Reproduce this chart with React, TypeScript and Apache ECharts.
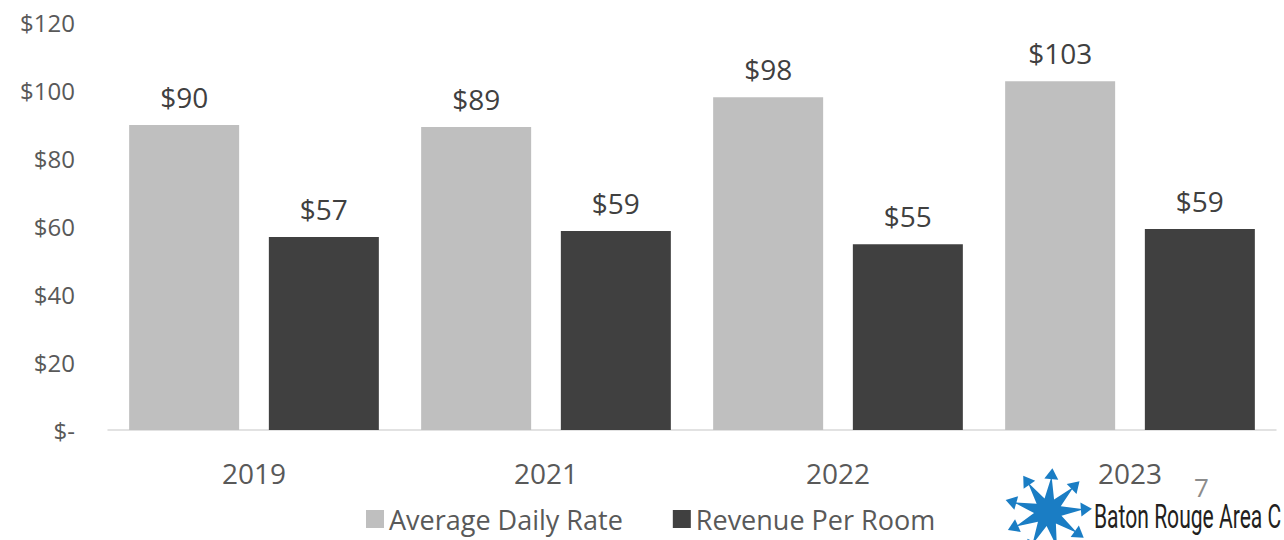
import React, { useEffect, useRef } from "react";
import * as echarts from "echarts";

const categories = ["2019", "2021", "2022", "2023"];
const adrValues = [89.7, 89.1, 97.9, 102.6];
const rprValues = [56.8, 58.5, 54.6, 59.1];
const seriesNames = ["Average Daily Rate", "Revenue Per Room"];

function starPoints(cx: number, cy: number, n: number, ro: number, ri: number, rot: number) {
  const pts: number[][] = [];
  for (let i = 0; i < n * 2; i++) {
    const r = i % 2 === 0 ? ro : ri;
    const a = rot + (Math.PI * i) / n;
    pts.push([cx + r * Math.cos(a), cy + r * Math.sin(a)]);
  }
  return pts;
}

function arrowHeads(cx: number, cy: number, n: number, ro: number, rot: number) {
  const out: any[] = [];
  for (let i = 0; i < n; i++) {
    const a = rot + (2 * Math.PI * i) / n;
    const tx = cx + ro * Math.cos(a);
    const ty = cy + ro * Math.sin(a);
    const bx = cx + (ro - 11) * Math.cos(a);
    const by = cy + (ro - 11) * Math.sin(a);
    const px = -Math.sin(a) * 7;
    const py = Math.cos(a) * 7;
    out.push({
      type: "polygon",
      shape: { points: [[tx, ty], [bx + px, by + py], [bx - px, by - py]] },
      style: { fill: "#1A7DC4" },
    });
  }
  return out;
}

export default function App() {
  const ref = useRef<HTMLDivElement>(null);
  useEffect(() => {
    if (!ref.current) return;
    const chart = echarts.init(ref.current, null, { renderer: "svg" });
    const font = "'Open Sans', sans-serif";
    const fmt = (v: number) => (v === 0 ? "$-" : "$" + Math.round(v));
    const rot = -Math.PI / 2 + 0.1;
    chart.setOption({
      animation: false,
      textStyle: { fontFamily: font },
      grid: { left: 108, right: 8, top: 22, bottom: 110, containLabel: false },
      legend: {
        data: seriesNames,
        left: 366,
        top: 504,
        padding: 0,
        itemWidth: 18,
        itemHeight: 18,
        itemGap: 50,
        icon: "rect",
        textStyle: { fontSize: 27, lineHeight: 30, color: "#595959", fontFamily: font },
      },
      xAxis: {
        type: "category",
        data: categories,
        axisLine: { lineStyle: { color: "#D9D9D9", width: 1.5 } },
        axisTick: { show: false },
        axisLabel: { fontSize: 28, color: "#595959", margin: 29, fontFamily: font },
      },
      yAxis: {
        type: "value",
        min: 0,
        max: 120,
        interval: 20,
        axisLine: { show: false },
        axisTick: { show: false },
        splitLine: { show: false },
        axisLabel: {
          fontSize: 24,
          color: "#595959",
          margin: 33,
          fontFamily: font,
          formatter: (v: number) => fmt(v),
        },
      },
      series: [
        {
          name: seriesNames[0],
          type: "bar",
          data: adrValues,
          barWidth: 110,
          barGap: "27%",
          itemStyle: { color: "#BFBFBF" },
          label: {
            show: true,
            position: "top",
            distance: 14,
            fontSize: 28,
            color: "#404040",
            fontFamily: font,
            formatter: (p: any) => fmt(p.value),
          },
        },
        {
          name: seriesNames[1],
          type: "bar",
          data: rprValues,
          barWidth: 110,
          barGap: "27%",
          itemStyle: { color: "#404040" },
          label: {
            show: true,
            position: "top",
            distance: 14,
            fontSize: 28,
            color: "#404040",
            fontFamily: font,
            formatter: (p: any) => fmt(p.value),
          },
        },
      ],
      graphic: [
        {
          type: "polygon",
          shape: { points: starPoints(1048, 512, 9, 36, 14, rot) },
          style: { fill: "#1A7DC4" },
        },
        ...arrowHeads(1048, 512, 9, 44, rot),
        {
          type: "text",
          left: 1194,
          top: 474,
          style: { text: "7", fontSize: 26, fill: "#8C8C8C", fontFamily: font },
        },
        {
          type: "text",
          x: 1094,
          y: 500,
          scaleX: 0.62,
          style: {
            text: "Baton Rouge Area C",
            fontSize: 34,
            fill: "#231F20",
            fontFamily: "Roboto, sans-serif",
          },
        },
      ],
    });
    return () => chart.dispose();
  }, []);
  return (
    <div
      ref={ref}
      style={{ position: "fixed", left: 0, top: 0, width: 1284, height: 540, background: "#fff" }}
    />
  );
}
